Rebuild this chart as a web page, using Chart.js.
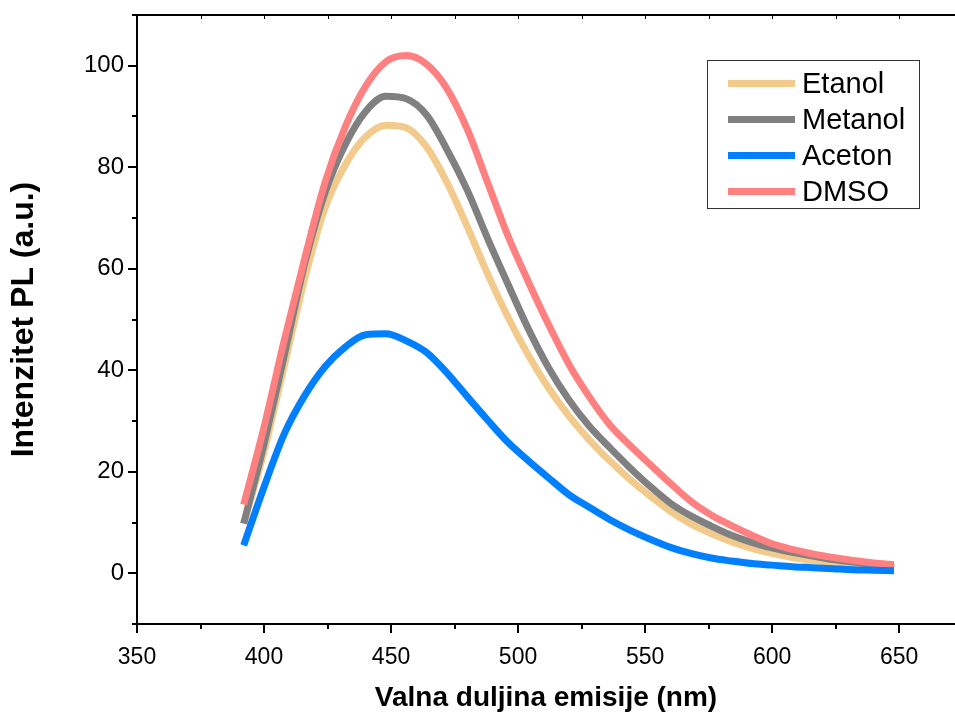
<!DOCTYPE html>
<html>
<head>
<meta charset="utf-8">
<title>Intenzitet PL</title>
<script src="https://cdn.jsdelivr.net/npm/chart.js@4.4.1/dist/chart.umd.min.js"></script>
<style>
  body { margin: 0; background: #fff; }
  canvas { display: block; }
</style>
</head>
<body>
<canvas id="plChart" width="955" height="715"></canvas>
<script>
// valne duljine (nm), svaka 8 nm
const wavelengths = [392, 400, 408, 416, 424, 432, 440, 448, 456, 464, 472, 480, 488, 496, 504, 512,
  520, 528, 536, 544, 552, 560, 568, 576, 584, 592, 600, 608, 616, 624, 632, 640, 648];

const etanol = [9.8, 24, 41, 58, 72, 80.5, 86, 88.3, 87.8, 84, 77, 68.3, 59, 50.5, 43, 36.5,
  31, 26.3, 22.2, 18.5, 15.2, 12.2, 9.7, 7.8, 6.2, 4.9, 3.9, 3.1, 2.5, 2.0, 1.6, 1.3, 1.0];
const metanol = [9.8, 25.5, 43, 61, 75, 84.5, 91, 94, 93.5, 90.3, 83.5, 75.5, 66, 57, 48.2, 40.5,
  34.2, 29, 24.8, 20.8, 17.1, 13.8, 11.3, 9.3, 7.5, 6.1, 5.0, 4.1, 3.4, 2.7, 2.2, 1.7, 1.2];
const aceton = [5.5, 17, 27.5, 35, 40.7, 44.6, 47, 47.2, 45.8, 43.5, 39.5, 34.8, 30.2, 25.8, 22.2, 18.8,
  15.5, 13, 10.6, 8.5, 6.7, 5.1, 3.9, 3.0, 2.4, 1.9, 1.6, 1.3, 1.1, 0.9, 0.7, 0.6, 0.5];
const dmso = [13.5, 28.8, 46, 62, 77, 88, 96, 100.8, 102, 100.3, 95.5, 87.5, 77, 66.5, 57.5, 49,
  41.2, 34.8, 29.3, 25.2, 21.4, 17.7, 14.2, 11.5, 9.4, 7.5, 5.8, 4.7, 3.8, 3.1, 2.5, 2.0, 1.7];

const seriesNames = ['Etanol', 'Metanol', 'Aceton', 'DMSO'];
const seriesColors = ['#F2CA8C', '#808080', '#0080FF', '#FF8080'];
const drawOrder = [4, 3, 1, 2]; // Aceton na vrhu

// oznake na osima
const xTickValues = [350, 400, 450, 500, 550, 600, 650];
const yTickValues = [0, 20, 40, 60, 80, 100];

const xTitle = 'Valna duljina emisije (nm)';
const yTitle = 'Intenzitet PL (a.u.)';

const FONT = "'Liberation Sans', Arial, sans-serif";

function toPoints(values) {
  return wavelengths.map((w, i) => ({ x: w, y: values[i] }));
}

const allSeries = [etanol, metanol, aceton, dmso];

// vrijednosti glavnih i sporednih crtica (sporedne su u sredini)
function tickValues(scale) {
  const major = scale.ticks.map((t) => t.value);
  const minor = [];
  for (let i = 0; i < major.length - 1; i++) minor.push((major[i] + major[i + 1]) / 2);
  const step = major[1] - major[0];
  if (major[0] - step / 2 >= scale.min) minor.push(major[0] - step / 2);
  const last = major[major.length - 1] + step / 2;
  if (last <= scale.max) minor.push(last);
  return { major, minor };
}

// okvir i crtice na osima
const framePlugin = {
  id: 'framePlugin',
  afterDraw(chart) {
    const { ctx, chartArea: a, scales: { x, y } } = chart;
    const xt = tickValues(x);
    const yt = tickValues(y);
    ctx.save();
    ctx.strokeStyle = '#000';
    ctx.lineWidth = 2;
    ctx.beginPath();
    ctx.moveTo(a.left, a.bottom);
    ctx.lineTo(a.left, a.top);
    ctx.moveTo(a.left - 1, a.top);
    ctx.lineTo(a.right, a.top);
    ctx.moveTo(a.left - 1, a.bottom);
    ctx.lineTo(a.right, a.bottom);
    xt.major.concat(xt.minor).forEach((v) => {
      const px = Math.round(x.getPixelForValue(v));
      const len = xt.major.includes(v) ? 9 : 5;
      ctx.moveTo(px, a.bottom);
      ctx.lineTo(px, a.bottom + len);
    });
    yt.major.concat(yt.minor).forEach((v) => {
      const py = Math.round(y.getPixelForValue(v));
      const len = yt.major.includes(v) ? 9 : 5;
      ctx.moveTo(a.left, py);
      ctx.lineTo(a.left - len, py);
    });
    ctx.stroke();

    // sitne crtice na gornjoj osi
    ctx.lineWidth = 1;
    ctx.beginPath();
    xt.major.concat(xt.minor).forEach((v) => {
      if (v === x.min) return;
      const px = Math.round(x.getPixelForValue(v)) + 0.5;
      ctx.moveTo(px, a.top);
      ctx.lineTo(px, a.top + 4);
    });
    ctx.stroke();
    ctx.restore();
  },
};

// legenda u okviru
const boxLegend = {
  id: 'boxLegend',
  afterDraw(chart) {
    const ctx = chart.ctx;
    const left = 707, top = 60, w = 212, h = 148;
    ctx.save();
    ctx.fillStyle = '#fff';
    ctx.fillRect(left, top, w, h);
    ctx.strokeStyle = '#333';
    ctx.lineWidth = 1;
    ctx.strokeRect(left + 0.5, top + 0.5, w, h);
    ctx.font = '29px ' + FONT;
    ctx.textBaseline = 'middle';
    chart.data.datasets.forEach((ds, i) => {
      const cy = 83.5 + i * 36;
      ctx.strokeStyle = ds.borderColor;
      ctx.lineWidth = 7;
      ctx.beginPath();
      ctx.moveTo(728, cy);
      ctx.lineTo(795, cy);
      ctx.stroke();
      ctx.fillStyle = '#000';
      ctx.fillText(ds.label, 802, cy + 1);
    });
    ctx.restore();
  },
};

new Chart(document.getElementById('plChart'), {
  type: 'line',
  data: {
    datasets: seriesNames.map((name, i) => ({
      label: name,
      data: toPoints(allSeries[i]),
      borderColor: seriesColors[i],
      backgroundColor: seriesColors[i],
      borderWidth: 7,
      pointRadius: 0,
      cubicInterpolationMode: 'monotone',
      fill: false,
      order: drawOrder[i],
    })),
  },
  options: {
    responsive: false,
    animation: false,
    layout: { padding: { top: 15, right: 0, bottom: 0, left: 0 } },
    plugins: {
      legend: { display: false },
      tooltip: { enabled: false },
    },
    scales: {
      x: {
        type: 'linear',
        min: 350,
        max: 672,
        grid: { display: false, drawTicks: true, tickLength: 20 },
        border: { display: false },
        afterBuildTicks: (s) => { s.ticks = xTickValues.map((v) => ({ value: v })); },
        ticks: {
          autoSkip: false,
          maxRotation: 0,
          padding: 0,
          color: '#000',
          font: { family: FONT, size: 23 },
        },
        title: {
          display: true,
          text: xTitle,
          color: '#000',
          padding: { top: 0, bottom: 0 },
          font: { family: FONT, size: 28, weight: 'bold' },
        },
        afterFit: (s) => { s.height = 91; },
      },
      y: {
        min: -10,
        max: 110,
        grid: { display: false, drawTicks: true, tickLength: 13 },
        border: { display: false },
        afterBuildTicks: (s) => { s.ticks = yTickValues.map((v) => ({ value: v })); },
        ticks: {
          autoSkip: false,
          padding: 0,
          color: '#000',
          font: { family: FONT, size: 24 },
        },
        title: {
          display: true,
          text: yTitle,
          color: '#000',
          padding: { top: 5, bottom: 0 },
          font: { family: FONT, size: 32, weight: 'bold' },
        },
        afterFit: (s) => { s.width = 137; },
      },
    },
  },
  plugins: [framePlugin, boxLegend],
});
</script>
</body>
</html>
